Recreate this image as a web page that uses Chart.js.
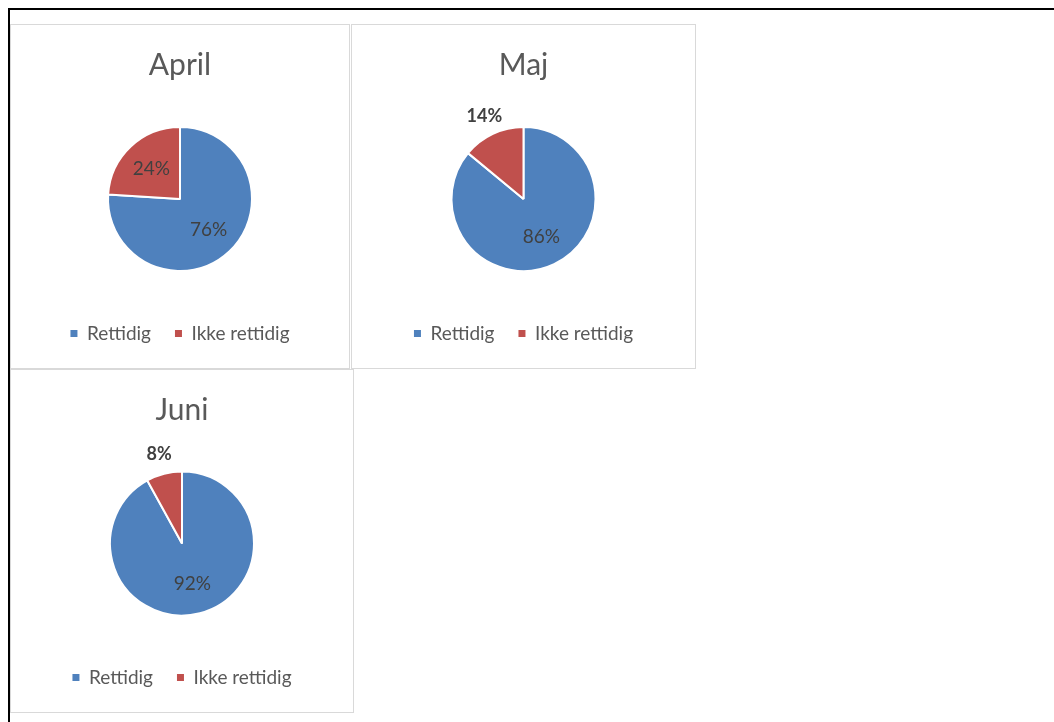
<!DOCTYPE html>
<html>
<head>
<meta charset="utf-8">
<title>Rettidighed april - juni</title>
<script src="https://cdn.jsdelivr.net/npm/chart.js"></script>
<style>
  body { margin: 0; background: #fff; width: 1054px; height: 722px; overflow: hidden; position: relative; font-family: Lato, sans-serif; }
  .ramme { position: absolute; left: 8px; top: 8px; width: 1100px; height: 800px; border-top: 2px solid #000; border-left: 2px solid #000; }
  .panel { position: absolute; box-sizing: border-box; border: 1px solid #d9d9d9; background: #fff; }
  .panel canvas { display: block; }
</style>
</head>
<body>
  <div class="ramme"></div>
  <div class="panel" style="left:10px; top:24px; width:340px; height:345px;"><canvas id="april" width="338" height="343"></canvas></div>
  <div class="panel" style="left:351px; top:24px; width:345px; height:345px;"><canvas id="maj" width="343" height="343"></canvas></div>
  <div class="panel" style="left:10px; top:369px; width:344px; height:344px;"><canvas id="juni" width="342" height="342"></canvas></div>
<script>
  // data
  const maaneder = ["April", "Maj", "Juni"];
  const kategorier = ["Rettidig", "Ikke rettidig"];
  const rettidig = [76, 86, 92];
  const ikkeRettidig = [24, 14, 8];
  const canvasIds = ["april", "maj", "juni"];

  const farver = ["#4f81bd", "#c0504d"];

  // procent-tekst paa hvert stykke: store stykker indeni, smaa udenfor (fed)
  const procentEtiketter = {
    id: "procentEtiketter",
    afterDatasetsDraw(chart) {
      const ctx = chart.ctx;
      const meta = chart.getDatasetMeta(0);
      const vaerdier = chart.data.datasets[0].data;
      ctx.save();
      ctx.textAlign = "center";
      ctx.textBaseline = "middle";
      ctx.fillStyle = "#404040";
      meta.data.forEach(function (arc, i) {
        const p = arc.getProps(["x", "y", "startAngle", "endAngle", "outerRadius"], true);
        const midt = (p.startAngle + p.endAngle) / 2;
        const v = vaerdier[i];
        let afstand;
        if (v >= 20) {
          afstand = p.outerRadius * 0.58;
          ctx.font = "19px Lato";
        } else {
          afstand = p.outerRadius + 20;
          ctx.font = "bold 18px Lato";
        }
        ctx.fillText(v + "%", p.x + Math.cos(midt) * afstand, p.y + Math.sin(midt) * afstand);
      });
      ctx.restore();
    }
  };

  function tegnMaaned(i) {
    new Chart(document.getElementById(canvasIds[i]), {
      type: "pie",
      data: {
        labels: kategorier,
        datasets: [{
          data: [rettidig[i], ikkeRettidig[i]],
          backgroundColor: farver,
          borderColor: "#ffffff",
          borderWidth: 2,
          radius: 72
        }]
      },
      options: {
        responsive: false,
        animation: false,
        events: [],
        layout: { padding: { bottom: 15 } },
        plugins: {
          title: {
            display: true,
            text: maaneder[i],
            color: "#595959",
            font: { family: "Lato", size: 30, weight: "normal" },
            padding: { top: 22, bottom: 15 }
          },
          legend: {
            position: "bottom",
            labels: {
              color: "#595959",
              font: { family: "Lato", size: 19 },
              usePointStyle: true,
              pointStyle: "rect",
              boxHeight: 7,
              pointStyleWidth: 7,
              padding: 24,
              generateLabels: function (chart) {
                const std = Chart.overrides.pie.plugins.legend.labels.generateLabels(chart);
                return std.map(function (l) { l.lineWidth = 0; l.strokeStyle = "rgba(0,0,0,0)"; return l; });
              }
            }
          },
          tooltip: { enabled: false }
        }
      },
      plugins: [procentEtiketter]
    });
  }

  for (let i = 0; i < maaneder.length; i++) {
    tegnMaaned(i);
  }
</script>
</body>
</html>
